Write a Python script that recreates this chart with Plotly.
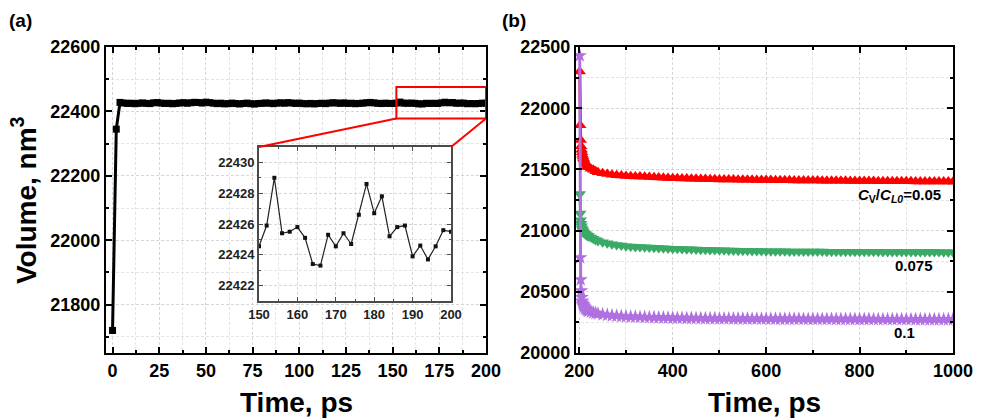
import plotly.graph_objects as go

# ---------------- data ----------------
# (a) volume vs time, sampled every 2 ps
time_a = list(range(0, 201, 2))
volume_a = [
    21720.0, 22345.0, 22428.0,
    22426.1, 22424.8, 22425.5, 22423.9, 22425.2, 22426.4, 22425.0, 22424.3, 22426.8, 22427.5,
    22425.9, 22424.6, 22425.3, 22423.8, 22424.9, 22426.2, 22427.1, 22425.4, 22426.9, 22428.3,
    22427.6, 22426.0, 22428.8, 22427.2, 22425.7, 22424.1, 22425.6, 22423.5, 22424.2, 22425.8,
    22424.4, 22423.1, 22424.7, 22425.9, 22424.0, 22422.8, 22424.5, 22425.1, 22426.3, 22425.6,
    22424.2, 22425.7, 22426.9, 22425.3, 22427.4, 22426.1, 22424.8, 22425.9, 22424.3, 22423.6,
    22424.9, 22423.2, 22424.6, 22425.4, 22424.1, 22425.8, 22427.0, 22426.2, 22425.0, 22426.6,
    22424.7, 22425.5, 22423.9, 22424.8, 22425.7, 22426.8, 22427.9, 22426.5, 22425.2, 22424.4,
    22425.6, 22424.9,
    # 150 .. 200 ps
    22424.55, 22425.9, 22429.0, 22425.4, 22425.5, 22425.8, 22425.1, 22423.4, 22423.3, 22425.3,
    22424.55, 22425.4, 22424.7, 22426.6, 22428.6, 22426.7, 22427.8, 22425.2, 22425.8, 22425.9,
    22423.9, 22424.6, 22423.7, 22424.55, 22425.6, 22425.5,
]
inset_start = 150

# (b) volume vs time for three vacancy concentrations
time_b = [201, 202, 203, 204, 205, 206, 207, 208, 209, 210, 212, 214, 216, 218, 220,
          225, 230, 235, 240, 250, 260, 270, 280, 290, 300] + list(range(310, 1001, 10))

vol_005 = [
    22300, 21860, 21740, 21690, 21660, 21640, 21620, 21605, 21592, 21580, 21562, 21548, 21536, 21526, 21518,
    21505, 21497, 21485, 21477, 21468, 21462, 21457, 21453, 21450, 21447,
    21445, 21443, 21441, 21439, 21437, 21435, 21433, 21431, 21429, 21428,
    21427, 21426, 21425, 21424, 21423, 21422, 21421, 21420, 21419, 21418,
    21418, 21417, 21417, 21416, 21416, 21415, 21415, 21414, 21414, 21413,
    21413, 21412, 21412, 21411, 21411, 21410, 21410, 21410, 21409, 21409,
    21409, 21408, 21408, 21408, 21407, 21407, 21407, 21406, 21406, 21406,
    21405, 21405, 21405, 21404, 21404, 21404, 21404, 21403, 21403, 21403,
    21403, 21402, 21402, 21402, 21402, 21401, 21401, 21401, 21401, 21400,
]
vol_0075 = [
    21300, 21140, 21085, 21055, 21035, 21018, 21005, 20995, 20987, 20980, 20975, 20968, 20962, 20957, 20953,
    20943, 20933, 20924, 20916, 20904, 20896, 20889, 20883, 20878, 20873,
    20870, 20867, 20865, 20863, 20861, 20859, 20857, 20856, 20854, 20852,
    20851, 20849, 20848, 20847, 20845, 20844, 20843, 20842, 20841, 20840,
    20839, 20838, 20837, 20836, 20836, 20835, 20834, 20833, 20833, 20832,
    20832, 20831, 20831, 20831, 20830, 20830, 20830, 20829, 20829, 20829,
    20829, 20829, 20828, 20828, 20828, 20828, 20828, 20828, 20827, 20827,
    20827, 20827, 20827, 20827, 20826, 20826, 20826, 20826, 20826, 20826,
    20826, 20825, 20825, 20825, 20825, 20825, 20825, 20824, 20824, 20824,
]
vol_01 = [
    22430, 20780, 20600, 20510, 20455, 20425, 20410, 20398, 20388, 20380, 20368, 20360, 20353, 20347, 20343,
    20336, 20330, 20325, 20320, 20314, 20310, 20306, 20303, 20300, 20298,
    20296, 20295, 20293, 20292, 20291, 20290, 20289, 20288, 20287, 20286,
    20285, 20285, 20284, 20284, 20283, 20283, 20282, 20282, 20282, 20281,
    20281, 20281, 20280, 20280, 20280, 20280, 20279, 20279, 20279, 20279,
    20279, 20278, 20278, 20278, 20278, 20278, 20278, 20277, 20277, 20277,
    20277, 20277, 20277, 20277, 20276, 20276, 20276, 20276, 20276, 20276,
    20276, 20276, 20275, 20275, 20275, 20275, 20275, 20275, 20275, 20275,
    20275, 20274, 20274, 20274, 20274, 20274, 20274, 20274, 20274, 20274,
]
series_labels = ["<i>C</i><sub>V</sub>/<i>C</i><sub><i>L0</i></sub>=0.05", "0.075", "0.1"]

# ---------------- layout geometry ----------------
W, H = 982, 420
FONT = "Liberation Sans"

def px_x(p):
    return p / W

def px_y(p):
    return 1 - p / H

dom_ax = [px_x(106), px_x(486)]
dom_bx = [px_x(576), px_x(953)]
dom_y = [px_y(353), px_y(47)]
dom_ix = [px_x(259), px_x(451)]
dom_iy = [px_y(301), px_y(147)]

rng_ax = [-3.5, 200]
rng_ay = [21650, 22600]
rng_bx = [193, 1000]
rng_by = [20000, 22500]
rng_ix = [150, 200]
rng_iy = [22421, 22431]

zoom_box_x = [152, 200]
zoom_box_y = [22378, 22476]


def to_paper(v, rng, dom):
    return dom[0] + (v - rng[0]) / (rng[1] - rng[0]) * (dom[1] - dom[0])


fig = go.Figure()

# main curve (a)
fig.add_trace(go.Scatter(
    x=time_a, y=volume_a, mode="lines+markers",
    line=dict(color="black", width=3),
    marker=dict(symbol="square", size=7, color="black"),
    xaxis="x", yaxis="y", showlegend=False,
))

# inset curve
inset_t = [t for t in time_a if t >= inset_start]
inset_v = [v for t, v in zip(time_a, volume_a) if t >= inset_start]
fig.add_trace(go.Scatter(
    x=inset_t, y=inset_v, mode="lines+markers",
    line=dict(color="#222222", width=1.2),
    marker=dict(symbol="square", size=4, color="#111111"),
    xaxis="x3", yaxis="y3", showlegend=False,
))

# three curves (b)
styles = [
    ("#ff0000", "triangle-up"),
    ("#3aaa66", "triangle-down"),
    ("#b070e0", "star"),
]
for vals, (col, sym) in zip([vol_005, vol_0075, vol_01], styles):
    fig.add_trace(go.Scatter(
        x=time_b, y=vals, mode="lines+markers",
        line=dict(color=col, width=3),
        marker=dict(symbol=sym, size=11, color=col),
        xaxis="x2", yaxis="y2", showlegend=False,
    ))

tickfont = dict(family=FONT, size=18, color="black", weight=700)
grid = dict(showgrid=True, gridcolor="#d6d6d6", gridwidth=1, griddash="3px,2px")


def main_axis(rng, dom, dtick, mdtick, anchor):
    return dict(
        range=rng, domain=dom, anchor=anchor, dtick=dtick, tickformat="d",
        automargin=False,
        showline=True, linecolor="black", linewidth=2, mirror="ticks",
        ticks="inside", ticklen=6, tickwidth=2, tickcolor="black",
        tickfont=tickfont, zeroline=False,
        minor=dict(dtick=mdtick, ticks="inside", ticklen=3, tickwidth=1.5,
                   tickcolor="black", showgrid=True, gridcolor="#e4e4e4",
                   griddash="3px,2px"),
        **grid,
    )


def inset_axis(rng, dom, dtick, mdtick, anchor):
    return dict(
        range=rng, domain=dom, anchor=anchor, dtick=dtick, tickformat="d",
        automargin=False,
        showline=True, linecolor="#4a4a4a", linewidth=2, mirror="ticks",
        ticks="inside", ticklen=4, tickcolor="#4a4a4a",
        tickfont=dict(family=FONT, size=13, color="#222222", weight=700),
        minor=dict(dtick=mdtick, ticks="inside", ticklen=2, tickcolor="#4a4a4a",
                   showgrid=True, gridcolor="#e4e4e4", griddash="3px,2px"),
        zeroline=False, **grid,
    )


fig.update_layout(
    width=W, height=H,
    margin=dict(l=0, r=0, t=0, b=0),
    paper_bgcolor="white", plot_bgcolor="white",
    xaxis=main_axis(rng_ax, dom_ax, 25, 12.5, "y"),
    yaxis=main_axis(rng_ay, dom_y, 200, 100, "x"),
    xaxis2=main_axis(rng_bx, dom_bx, 200, 100, "y2"),
    yaxis2=main_axis(rng_by, dom_y, 500, 250, "x2"),
    xaxis3=inset_axis(rng_ix, dom_ix, 10, 5, "y3"),
    yaxis3=inset_axis(rng_iy, dom_iy, 2, 1, "x3"),
)

# zoom box in (a) and connectors to inset
fig.add_shape(type="rect", xref="x", yref="y",
              x0=zoom_box_x[0], x1=zoom_box_x[1], y0=zoom_box_y[0], y1=zoom_box_y[1],
              line=dict(color="#ff0000", width=2))
bx0 = to_paper(zoom_box_x[0], rng_ax, dom_ax)
bx1 = to_paper(zoom_box_x[1], rng_ax, dom_ax)
by0 = to_paper(zoom_box_y[0], rng_ay, dom_y)
for bx, ix in [(bx0, dom_ix[0]), (bx1, dom_ix[1])]:
    fig.add_shape(type="line", xref="paper", yref="paper",
                  x0=bx, y0=by0, x1=ix, y1=dom_iy[1],
                  line=dict(color="#ff0000", width=2))

# panel labels and titles
ann = []
ann.append(dict(text="<b>(a)</b>", x=px_x(7), y=px_y(20), xanchor="left", yanchor="middle",
                font=dict(family=FONT, size=19, color="black")))
ann.append(dict(text="<b>(b)</b>", x=px_x(500), y=px_y(20), xanchor="left", yanchor="middle",
                font=dict(family=FONT, size=19, color="black")))
ann.append(dict(text="<b>Volume, nm<sup>3</sup></b>", x=px_x(24), y=px_y(200),
                xanchor="center", yanchor="middle", textangle=-90,
                font=dict(family=FONT, size=28, color="black")))
ann.append(dict(text="<b>Time, ps</b>", x=sum(dom_ax) / 2, y=px_y(402),
                xanchor="center", yanchor="middle",
                font=dict(family=FONT, size=28, color="black")))
ann.append(dict(text="<b>Time, ps</b>", x=sum(dom_bx) / 2, y=px_y(402),
                xanchor="center", yanchor="middle",
                font=dict(family=FONT, size=28, color="black")))
label_pos = [(943, 195, "right"), (935, 265, "right"), (917, 332, "right")]
for lab, (lx, ly, anc) in zip(series_labels, label_pos):
    ann.append(dict(text=f"<b>{lab}</b>", x=px_x(lx), y=px_y(ly),
                    xanchor=anc, yanchor="middle",
                    font=dict(family=FONT, size=15, color="black")))
for a in ann:
    a.update(xref="paper", yref="paper", showarrow=False)
fig.update_layout(annotations=ann)

fig.write_html("out.html")
